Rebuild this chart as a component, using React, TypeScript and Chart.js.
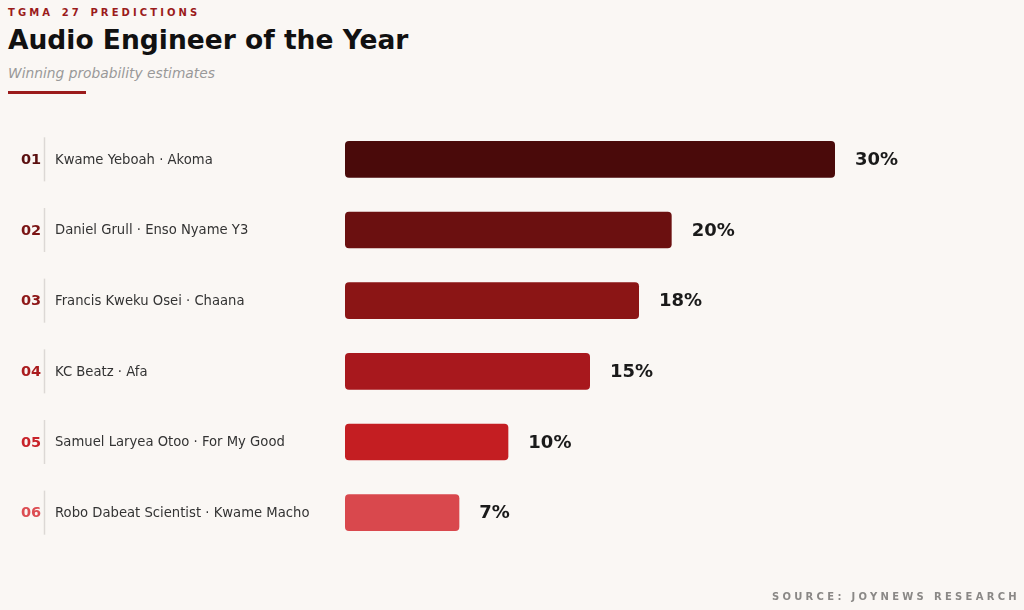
import { useEffect, useRef } from "react";
import { Chart, registerables } from "chart.js";
import type { Plugin } from "chart.js";

Chart.register(...registerables);

const ranks = ["01", "02", "03", "04", "05", "06"];
const nominees = [
  "Kwame Yeboah · Akoma",
  "Daniel Grull · Enso Nyame Y3",
  "Francis Kweku Osei · Chaana",
  "KC Beatz · Afa",
  "Samuel Laryea Otoo · For My Good",
  "Robo Dabeat Scientist · Kwame Macho",
];
const probabilities = [30, 20, 18, 15, 10, 7];
const barColors = ["#4a0a0a", "#6b1010", "#8b1515", "#a8181d", "#c41e22", "#d9484d"];
const rankColors = ["#5a0f0f", "#7a1414", "#8e1818", "#aa1c1e", "#c8232a", "#dc4d52"];

const FONT = "'DejaVu Sans', sans-serif";
const BG = "#faf7f4";

const rowLabels: Plugin<"bar"> = {
  id: "rowLabels",
  afterDatasetsDraw(chart) {
    const { ctx } = chart;
    const x = chart.scales.x;
    const y = chart.scales.y;
    ctx.save();
    ctx.textBaseline = "middle";
    probabilities.forEach((v, i) => {
      const cy = y.getPixelForValue(i);

      ctx.font = `bold 14.5px ${FONT}`;
      ctx.fillStyle = rankColors[i];
      ctx.textAlign = "left";
      ctx.fillText(ranks[i], 21, cy + 1);

      ctx.strokeStyle = "#dcd8d5";
      ctx.lineWidth = 1.5;
      ctx.beginPath();
      ctx.moveTo(44.5, cy - 22);
      ctx.lineTo(44.5, cy + 22);
      ctx.stroke();

      ctx.font = `13.2px ${FONT}`;
      ctx.fillStyle = "#333333";
      ctx.fillText(nominees[i], 55, cy + 1);

      ctx.font = `bold 18px ${FONT}`;
      ctx.fillStyle = "#1a1a1a";
      ctx.fillText(`${v}%`, x.getPixelForValue(v) + 20, cy + 1);
    });
    ctx.restore();
  },
};

export default function App() {
  const canvasRef = useRef<HTMLCanvasElement | null>(null);

  useEffect(() => {
    if (!canvasRef.current) return;
    const chart = new Chart(canvasRef.current, {
      type: "bar",
      data: {
        labels: nominees,
        datasets: [
          {
            data: probabilities,
            backgroundColor: barColors,
            borderRadius: 4,
            borderSkipped: false,
            barPercentage: 0.52,
            categoryPercentage: 1,
          },
        ],
      },
      options: {
        indexAxis: "y",
        responsive: true,
        maintainAspectRatio: false,
        animation: false,
        layout: { padding: { left: 345, right: 189, top: 124, bottom: 62 } },
        plugins: { legend: { display: false }, tooltip: { enabled: false } },
        scales: {
          x: { display: false, min: 0, max: 30 },
          y: { display: false },
        },
      },
      plugins: [rowLabels],
    });
    return () => chart.destroy();
  }, []);

  return (
    <div
      style={{
        position: "fixed",
        left: 0,
        top: 0,
        width: 1024,
        height: 610,
        background: BG,
        fontFamily: FONT,
        overflow: "hidden",
      }}
    >
      <div
        style={{
          position: "absolute",
          left: 8,
          top: 8,
          fontSize: 10,
          lineHeight: "10px",
          fontWeight: "bold",
          letterSpacing: 3.1,
          wordSpacing: 2,
          color: "#9b1b1b",
          whiteSpace: "nowrap",
        }}
      >
        TGMA 27 PREDICTIONS
      </div>
      <div
        style={{
          position: "absolute",
          left: 8,
          top: 27,
          fontSize: 26.5,
          lineHeight: "26.5px",
          fontWeight: "bold",
          color: "#111111",
          whiteSpace: "nowrap",
        }}
      >
        Audio Engineer of the Year
      </div>
      <div
        style={{
          position: "absolute",
          left: 8,
          top: 66,
          fontSize: 13.8,
          lineHeight: "14px",
          fontStyle: "italic",
          color: "#999999",
          whiteSpace: "nowrap",
        }}
      >
        Winning probability estimates
      </div>
      <div
        style={{
          position: "absolute",
          left: 8,
          top: 91,
          width: 78,
          height: 3,
          background: "#9b1b1b",
        }}
      />
      <div style={{ position: "absolute", left: 0, top: 0, width: 1024, height: 610 }}>
        <canvas ref={canvasRef} />
      </div>
      <div
        style={{
          position: "absolute",
          right: 4,
          top: 592,
          fontSize: 10,
          lineHeight: "10px",
          fontWeight: "bold",
          letterSpacing: 3.3,
          color: "#8a8886",
          whiteSpace: "nowrap",
        }}
      >
        SOURCE: JOYNEWS RESEARCH
      </div>
    </div>
  );
}
